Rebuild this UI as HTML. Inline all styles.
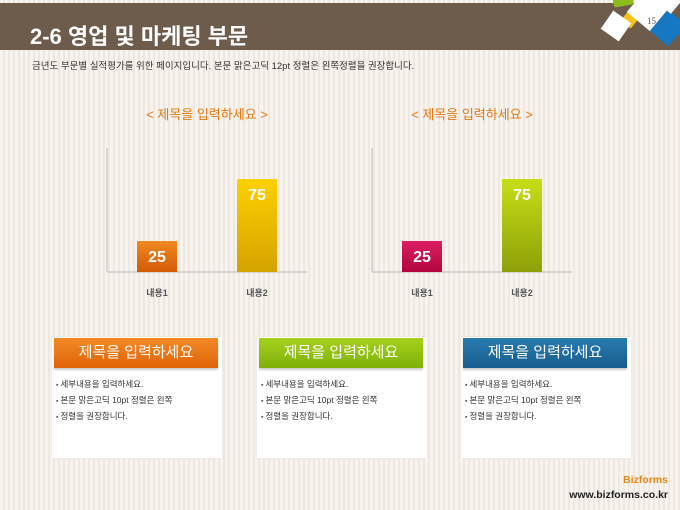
<!DOCTYPE html>
<html><head><meta charset="utf-8">
<style>
body{margin:0;width:680px;height:510px;overflow:hidden;font-family:"Liberation Sans","Noto Sans CJK KR",sans-serif;
background:repeating-linear-gradient(90deg,#f7f3ef 0,#f7f3ef 3px,#efe8e1 3px,#efe8e1 5px);position:relative}
.abs{position:absolute}
.card{position:absolute;background:#fff;width:170px;height:121px;top:337px;box-shadow:0 0 2px #e6ded6}
.hd{position:absolute;left:2px;top:1px;width:164px;height:30px;color:#fff;font-size:15px;text-align:center;line-height:30px;box-shadow:0 2px 2px rgba(0,0,0,.2)}
.card ul{position:absolute;top:40px;left:4px;margin:0;padding:0;list-style:none;font-size:8.5px;color:#333;line-height:15px}
.card li:before{content:"▪ ";color:#555;font-size:7px}
</style></head><body>
<div class="abs" style="left:0;top:3px;width:680px;height:47px;background:#6d5c4c"></div>
<div class="abs" style="left:30px;top:19px;color:#fff;font-size:22px;font-weight:bold">2-6 영업 및 마케팅 부문</div>
<svg class="abs" style="left:590px;top:0" width="90" height="55">
<rect x="23" y="-6" width="20" height="12" rx="2" fill="#8dbb1c" transform="rotate(-10 33 0)"/>
<rect x="33" y="13" width="13" height="13" fill="#f4c21b" transform="rotate(40 40 20)"/>
<rect x="15" y="15" width="22" height="22" fill="#fff" transform="rotate(35 26 26)"/>
<rect x="43" y="-5" width="30" height="30" fill="#fff" transform="rotate(40 58 10)"/>
<rect x="66" y="14" width="24" height="28" fill="#1677c3" transform="rotate(40 78 28)"/>
<rect x="70" y="-6" width="18" height="16" fill="#fff" transform="rotate(40 79 2)"/>
<text x="57" y="24" font-size="9" fill="#555" font-family="Liberation Serif">15</text>
</svg>
<div class="abs" style="left:32px;top:58px;font-size:9.5px;color:#333">금년도 부문별 실적평가를 위한 페이지입니다. 본문 맑은고딕 12pt 정렬은 왼쪽정렬을 권장합니다.</div>

<svg id="charts" class="abs" style="left:0;top:0" width="680" height="320">
<defs>
<linearGradient id="g0" x1="0" y1="0" x2="0" y2="1"><stop offset="0" stop-color="#f08a22"/><stop offset="1" stop-color="#d45a05"/></linearGradient>
<linearGradient id="g1" x1="0" y1="0" x2="0" y2="1"><stop offset="0" stop-color="#ffd000"/><stop offset="1" stop-color="#d3a300"/></linearGradient>
<linearGradient id="g2" x1="0" y1="0" x2="0" y2="1"><stop offset="0" stop-color="#dc1d63"/><stop offset="1" stop-color="#b2063f"/></linearGradient>
<linearGradient id="g3" x1="0" y1="0" x2="0" y2="1"><stop offset="0" stop-color="#c6de17"/><stop offset="1" stop-color="#8ea008"/></linearGradient>
</defs>
</svg>

<div class="card" style="left:52px"><div class="hd" style="background:linear-gradient(#f28a26,#e06408)">제목을 입력하세요</div>
<ul><li>세부내용을 입력하세요.</li><li>본문 맑은고딕 10pt 정렬은 왼쪽</li><li>정렬을 권장합니다.</li></ul></div>
<div class="card" style="left:257px"><div class="hd" style="background:linear-gradient(#a6d21c,#7fb00a)">제목을 입력하세요</div>
<ul><li>세부내용을 입력하세요.</li><li>본문 맑은고딕 10pt 정렬은 왼쪽</li><li>정렬을 권장합니다.</li></ul></div>
<div class="card" style="left:461px"><div class="hd" style="background:linear-gradient(#2a7cb1,#175c8d)">제목을 입력하세요</div>
<ul><li>세부내용을 입력하세요.</li><li>본문 맑은고딕 10pt 정렬은 왼쪽</li><li>정렬을 권장합니다.</li></ul></div>

<div class="abs" style="right:12px;top:474px;color:#e8891a;font-size:10.5px;font-weight:bold">Bizforms</div>
<div class="abs" style="right:12px;top:489px;color:#222;font-size:10.5px;font-weight:bold">www.bizforms.co.kr</div>

<script>
const categories=["내용1","내용2"];
const chart1Values=[25,75];
const chart2Values=[25,75];
const chartTitles=["< 제목을 입력하세요 >","< 제목을 입력하세요 >"];
const NS="http://www.w3.org/2000/svg";
const svg=document.getElementById('charts');
function mk(t,a){const e=document.createElementNS(NS,t);for(const k in a)e.setAttribute(k,a[k]);svg.appendChild(e);return e;}
function drawChart(ox,vals,fills,title,idx){
  const base=272,h=124,maxV=100;
  const y=v=>base-v/maxV*h;
  const x=i=>ox+30+i*100;
  const t=mk('text',{x:ox+100,y:119,'text-anchor':'middle','font-size':13,fill:'#e07a14'});t.textContent=title;
  
  
  const ya=mk('line',{x1:ox,y1:148,x2:ox,y2:base,stroke:'#ccc','stroke-width':1.5});
  
  
  const xa=mk('line',{x1:ox,y1:base,x2:ox+200,y2:base,stroke:'#ccc','stroke-width':1.5});
  
  
  vals.forEach((v,i)=>{
    const r=mk('rect',{x:x(i),y:y(v),width:40,height:base-y(v),fill:fills[i]});
    
    
    const lb=mk('text',{x:x(i)+20,y:y(v)+21,'text-anchor':'middle','font-size':16,'font-weight':'bold',fill:'#fff'});lb.textContent=v;
    
    
    const c=mk('text',{x:x(i)+20,y:296,'text-anchor':'middle','font-size':9,'font-weight':'bold',fill:'#555'});c.textContent=categories[i];
    
    
  });
}
drawChart(107,chart1Values,['url(#g0)','url(#g1)'],chartTitles[0],1);
drawChart(372,chart2Values,['url(#g2)','url(#g3)'],chartTitles[1],2);
</script>
</body></html>
